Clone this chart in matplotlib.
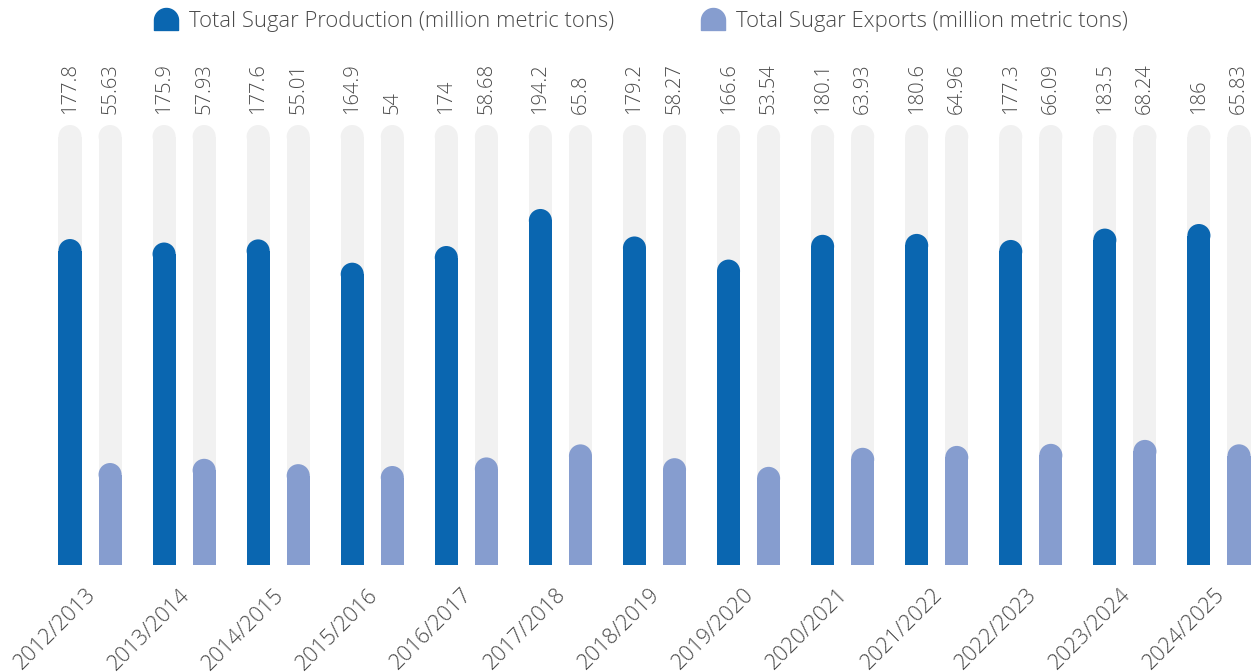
import matplotlib
matplotlib.use("Agg")
import matplotlib.pyplot as plt
from matplotlib.patches import Ellipse
from matplotlib.lines import Line2D
from matplotlib.path import Path
from matplotlib.transforms import ScaledTranslation
import numpy as np

plt.rcParams['font.family'] = ['Open Sans', 'DejaVu Sans']
plt.rcParams['font.weight'] = 'light'

categories = ["2012/2013", "2013/2014", "2014/2015", "2015/2016", "2016/2017", "2017/2018",
              "2018/2019", "2019/2020", "2020/2021", "2021/2022", "2022/2023", "2023/2024", "2024/2025"]
production = [177.8, 175.9, 177.6, 164.9, 174, 194.2, 179.2, 166.6, 180.1, 180.6, 177.3, 183.5, 186]
exports = [55.63, 57.93, 55.01, 54, 58.68, 65.8, 58.27, 53.54, 63.93, 64.96, 66.09, 68.24, 65.83]
prod_labels = ["177.8", "175.9", "177.6", "164.9", "174", "194.2", "179.2", "166.6", "180.1", "180.6", "177.3", "183.5", "186"]
exp_labels = ["55.63", "57.93", "55.01", "54", "58.68", "65.8", "58.27", "53.54", "63.93", "64.96", "66.09", "68.24", "65.83"]

C_PROD = "#0A66B0"
C_EXP = "#869DCF"
C_TRACK = "#F1F1F1"
C_TEXT = "#4A4A4A"

W, H = 1258, 672
fig = plt.figure(figsize=(W / 100, H / 100), dpi=100)
ax = fig.add_axes([0, 107 / H, 1, 440 / H])

xmin, xmax = -0.957, 12.415
ymax = 240.0
ax.set_xlim(xmin, xmax)
ax.set_ylim(0, ymax)

bw = 0.245
off = 0.213
px_per_x = W / (xmax - xmin)
px_per_y = 440 / ymax
r_px = bw * px_per_x / 2
ry = r_px / px_per_y

x = np.arange(len(categories))

def rounded_bars(xs, vals, color, z):
    vals = np.asarray(vals, dtype=float)
    ax.bar(xs, vals - ry, width=bw, color=color, zorder=z, linewidth=0)
    for xi, v in zip(xs, vals):
        ax.add_patch(Ellipse((xi, v - ry), bw, 2 * ry, facecolor=color, edgecolor='none', zorder=z))

for xs in (x - off, x + off):
    rounded_bars(xs, [ymax] * len(categories), C_TRACK, 1)
rounded_bars(x - off, production, C_PROD, 2)
rounded_bars(x + off, exports, C_EXP, 2)

for xs, labs in ((x - off, prod_labels), (x + off, exp_labels)):
    for xi, lab in zip(xs, labs):
        ax.annotate(lab, (xi, ymax), xytext=(0, 8), textcoords='offset points', rotation=90,
                    ha='center', va='bottom', fontsize=14.5, color=C_TEXT, annotation_clip=False)

ax.set_xticks(x)
ax.set_xticklabels(categories, rotation=45, ha='right', rotation_mode='anchor',
                   fontsize=15.5, color=C_TEXT)
ax.tick_params(axis='x', length=0, pad=14)
shift = ScaledTranslation(-5 / 100, 0, fig.dpi_scale_trans)
for lbl in ax.get_xticklabels():
    lbl.set_transform(lbl.get_transform() + shift)
ax.set_yticks([])
for s in ax.spines.values():
    s.set_visible(False)

t = np.linspace(0, np.pi, 30)
verts = [(1, -0.83), (1, 0)] + [(np.cos(a), np.sin(a)) for a in t] + [(-1, -0.83), (1, -0.83)]
codes = [Path.MOVETO] + [Path.LINETO] * (len(verts) - 2) + [Path.CLOSEPOLY]
mpath = Path(verts, codes)
handles = [
    Line2D([], [], linestyle='none', marker=mpath, markersize=17.3, color=C_PROD),
    Line2D([], [], linestyle='none', marker=mpath, markersize=17.3, color=C_EXP),
]
leg = fig.legend(handles, ["Total Sugar Production (million metric tons)",
                           "Total Sugar Exports (million metric tons)"],
                 loc='center', bbox_to_anchor=(0.5092, 1 - 22 / H), ncol=2, frameon=False,
                 fontsize=15.8, labelcolor=C_TEXT, columnspacing=3.95, handletextpad=0.5,
                 handlelength=1.1)

fig.savefig("out.png", dpi=100)
